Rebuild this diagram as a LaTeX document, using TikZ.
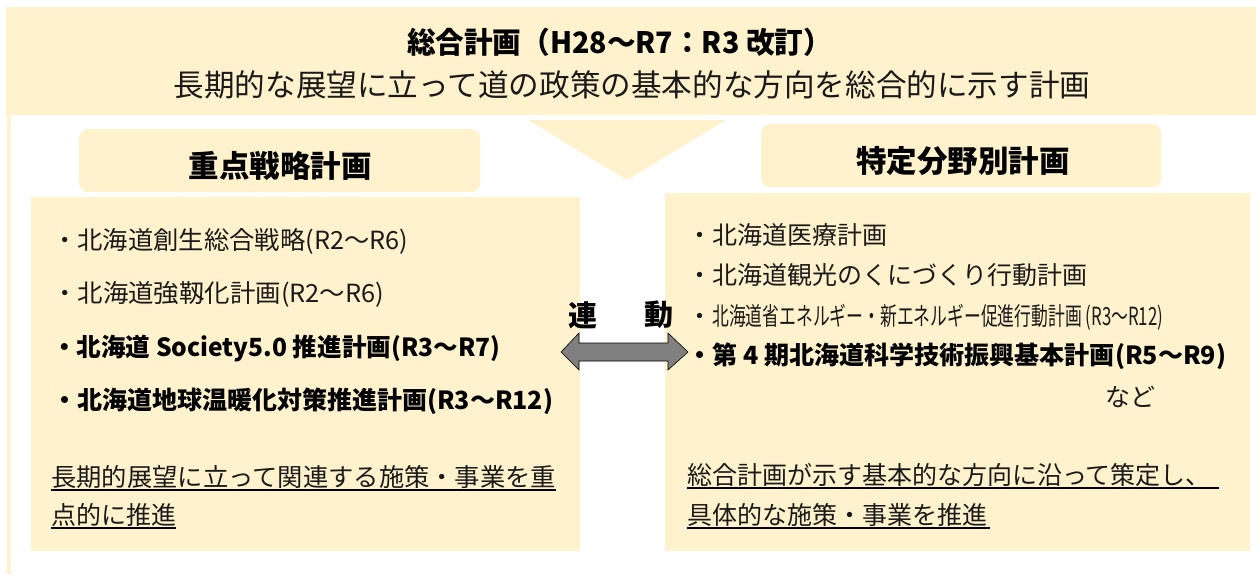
\documentclass[tikz,border=0pt]{standalone}
\usepackage{fontspec}
\setmainfont{Noto Sans CJK JP}
\usepackage{graphicx}
\definecolor{pale}{HTML}{FFF2CC}
\definecolor{arrowgray}{HTML}{808080}
\definecolor{ink}{HTML}{1A1A1A}
\begin{document}
\begin{tikzpicture}[x=1pt,y=-1pt,
  panel/.style={fill=pale, draw=none, inner sep=0pt, anchor=north west},
  hdrbox/.style={fill=pale, draw=none, rounded corners=9pt, inner sep=0pt, anchor=north west},
  item/.style={anchor=base west, inner sep=0pt, text=ink, font=\fontsize{25}{30}\selectfont},
  bolditem/.style={item, text=black, font=\fontsize{25}{30}\selectfont\bfseries},
  hdrtext/.style={anchor=base, inner sep=0pt, font=\fontsize{30.5}{36}\selectfont\bfseries},
  linktext/.style={anchor=center, inner sep=0pt, font=\fontsize{29}{34}\selectfont\bfseries},
  uline/.style={line width=2pt, black}
]
\useasboundingbox[fill=white] (0,0) rectangle (1256,574);

% frame and banner
\node[panel, minimum width=1250pt, minimum height=108pt] (banner) at (6,7) {};
\node[panel, minimum width=4pt, minimum height=459pt] (strip) at (7,115) {};
\coordinate (triL) at (528,120);
\coordinate (triR) at (726,120);
\coordinate (triT) at (627,180);
\fill[pale] (triL) -- (triR) -- (triT) -- cycle;

% headers and bodies
\node[hdrbox, minimum width=401pt, minimum height=63pt] (lhdr) at (79,129) {};
\node[hdrbox, minimum width=400pt, minimum height=63pt] (rhdr) at (761,124) {};
\node[panel, minimum width=549pt, minimum height=354pt] (lbody) at (31,197) {};
\node[panel, minimum width=585pt, minimum height=358pt] (rbody) at (665,193) {};

% title
\node[anchor=base, inner sep=0pt, font=\fontsize{29.5}{34}\selectfont\bfseries] (title) at (619.5,53.5)
  {\resizebox{425pt}{\height}{総合計画（H28～R7：R3 改訂）}};
\node[anchor=base, inner sep=0pt, text=ink, font=\fontsize{30.6}{36}\selectfont] (subtitle) at (632,96.8)
  {長期的な展望に立って道の政策の基本的な方向を総合的に示す計画};

\node[hdrtext] (lhdrtext) at (280,177.6) {重点戦略計画};
\node[hdrtext] (rhdrtext) at (963,172.6) {特定分野別計画};

% left items
\node[item] (l1) at (52,249.5) {\resizebox{356pt}{\height}{・北海道創生総合戦略(R2～R6)}};
\node[item] (l2) at (52,302.5) {\resizebox{332pt}{\height}{・北海道強靱化計画(R2～R6)}};
\node[bolditem] (l3) at (52,356.5) {\resizebox{448pt}{\height}{・北海道 Society5.0 推進計画(R3～R7)}};
\node[bolditem] (l4) at (52,409.5) {\resizebox{501pt}{\height}{・北海道地球温暖化対策推進計画(R3～R12)}};
\node[item] (lu1) at (51,486.5) {\resizebox{505pt}{\height}{長期的展望に立って関連する施策・事業を重}};
\node[item] (lu2) at (51,524.5) {点的に推進};
\draw[uline] ([yshift=-1.5pt]lu1.south west) -- ([yshift=-1.5pt]lu1.south east);
\draw[uline] ([yshift=-1.5pt]lu2.south west) -- ([yshift=-1.5pt]lu2.south east);

% right items
\node[item] (r1) at (687,244.5) {・北海道医療計画};
\node[item] (r2) at (687,284.5) {・北海道観光のくにづくり行動計画};
\node[item] (r3) at (687,325.5) {・\resizebox{451pt}{\height}{北海道省エネルギー・新エネルギー促進行動計画 (R3～R12)}};
\node[bolditem] (r4) at (687,364.5) {\resizebox{539pt}{\height}{・第 4 期北海道科学技術振興基本計画(R5～R9)}};
\node[item, anchor=base] (r5) at (1130,406.5) {など};
\node[item] (ru1) at (687,484.5) {総合計画が示す基本的な方向に沿って策定し、};
\node[item] (ru2) at (687,524.5) {具体的な施策・事業を推進};
\draw[uline] ([yshift=-1.5pt]ru1.south west) -- ([yshift=-1.5pt,xshift=8pt]ru1.south east);
\draw[uline] ([yshift=-1.5pt]ru2.south west) -- ([yshift=-1.5pt,xshift=3pt]ru2.south east);

% link arrow
\draw[fill=arrowgray, draw=black, line width=0.6pt]
  (561,352) -- (579,333) -- (579,343) -- (668,343) -- (668,333) -- (688,352)
  -- (668,370) -- (668,361) -- (579,361) -- (579,370) -- cycle;
\node[linktext] (ren) at (583,315) {連};
\node[linktext] (dou) at (659,315) {動};
\end{tikzpicture}
\end{document}
